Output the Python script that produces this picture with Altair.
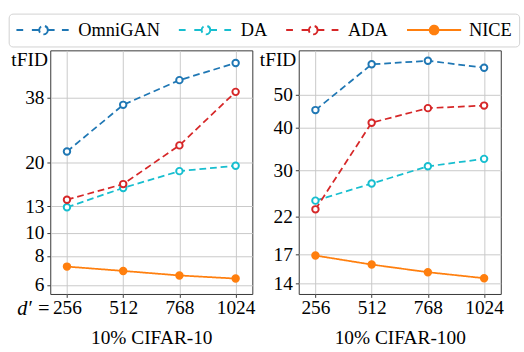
import altair as alt
import pandas as pd

series = ["OmniGAN", "DA", "ADA", "NICE"]
colors = ["#1f77b4", "#17becf", "#d62728", "#ff7f0e"]
fills = ["white", "white", "white", "#ff7f0e"]
dashes = [[7, 4], [7, 4], [7, 4], [1, 0]]
dims = [256, 512, 768, 1024]

c10_omnigan = [22.3, 35.3, 45.0, 53.3]
c10_da = [12.9, 15.6, 18.4, 19.4]
c10_ada = [13.9, 16.2, 23.7, 40.1]
c10_nice = [7.2, 6.9, 6.6, 6.4]

c100_omnigan = [45.2, 61.6, 63.1, 60.2]
c100_da = [24.5, 27.5, 30.9, 32.5]
c100_ada = [23.1, 41.5, 45.8, 46.6]
c100_nice = [16.9, 15.9, 15.1, 14.5]

c10_ticks = [6, 8, 10, 13, 20, 38]
c100_ticks = [14, 17, 22, 30, 40, 50]

# legend symbols: line (dashed or solid) with a circle marker
circle = ("M0.16,0C0.16,0.0884,0.0884,0.16,0,0.16C-0.0884,0.16,-0.16,0.0884,-0.16,0"
          "C-0.16,-0.0884,-0.0884,-0.16,0,-0.16C0.0884,-0.16,0.16,-0.0884,0.16,0Z")
dash_path = "M-1,0H-0.68M-0.43,0H-0.16M0.16,0H0.43M0.68,0H1" + circle
solid_path = "M-1,0H-0.16M0.16,0H1" + circle
shapes = [dash_path, dash_path, dash_path, solid_path]

FONT = "Liberation Serif"
W, H = 209, 252

legend = alt.Legend(
    orient="none", legendX=-43, legendY=-38, direction="horizontal", columns=4,
    labelFont=FONT, labelFontSize=19, labelColor="black", labelOffset=7,
    columnPadding=18, padding=7, strokeColor="#d0d0d0", cornerRadius=4,
    fillColor="white", symbolSize=3136, symbolStrokeWidth=2, clipHeight=20,
)


def make_df(vals):
    rows = []
    for s, v in zip(series, vals):
        for d, y in zip(dims, v):
            rows.append({"series": s, "ls": s, "d": d, "v": y})
    return pd.DataFrame(rows)


def panel(vals, ticks, ydomain, title, first):
    df = make_df(vals)
    x = alt.X("d:Q", scale=alt.Scale(domain=[180, 1100], nice=False, zero=False),
              axis=alt.Axis(values=dims, title=title, format="d"))
    y = alt.Y("v:Q", scale=alt.Scale(type="log", domain=ydomain, nice=False),
              axis=alt.Axis(values=ticks, title="tFID", format="d"))
    stroke = alt.Stroke("series:N", title=None, scale=alt.Scale(domain=series, range=colors), legend=legend)
    fill = alt.Fill("series:N", title=None, scale=alt.Scale(domain=series, range=fills), legend=legend)
    shape = alt.Shape("series:N", title=None, scale=alt.Scale(domain=series, range=shapes), legend=legend)
    sdash = alt.StrokeDash("ls:N", scale=alt.Scale(domain=series, range=dashes), legend=None)
    base = alt.Chart(df)
    lines = base.mark_line(strokeWidth=1.8).encode(x=x, y=y, stroke=stroke, strokeDash=sdash,
                                                  order="d:Q")
    pts = base.mark_point(size=45, strokeWidth=2, opacity=1, filled=False).encode(
        x=x, y=y, stroke=stroke, fill=fill)
    leg = base.transform_filter("false").mark_point(opacity=1).encode(
        x=x, y=y, stroke=stroke, fill=fill, shape=shape)
    layers = [lines, pts, leg]
    if first:
        tdf = pd.DataFrame({"d": [256], "t": ["d\u2032 ="]})
        txt = alt.Chart(tdf).mark_text(font=FONT, fontSize=21, fontStyle="italic", align="right",
                                       baseline="alphabetic", dx=-17, color="black").encode(
            x=alt.X("d:Q"), y=alt.value(H + 22), text="t:N")
        layers.append(txt)
    return alt.layer(*layers).properties(width=W, height=H)


left = panel([c10_omnigan, c10_da, c10_ada, c10_nice], c10_ticks, [5.5, 60.3], "10% CIFAR-10", True)
right = panel([c100_omnigan, c100_da, c100_ada, c100_nice], c100_ticks, [13.03, 67.7], "10% CIFAR-100", False)

chart = alt.hconcat(left, right, spacing=48, bounds="flush").resolve_scale(
    x="independent", y="independent", stroke="shared", fill="shared", shape="shared", strokeDash="shared"
).properties(
    padding={"left": 8, "right": 4, "top": 7, "bottom": 1}
).configure_view(
    stroke="#333333", strokeWidth=1
).configure_axis(
    labelFont=FONT, labelFontSize=20, labelColor="black",
    titleFont=FONT, titleFontSize=20, titleFontWeight="normal", titleColor="black",
    grid=True, gridColor="#c8c8c8", gridWidth=1, domain=False,
    ticks=True, tickSize=3.5, tickColor="#333333", tickWidth=1,
).configure_axisX(
    labelPadding=1, titlePadding=11,
).configure_axisY(
    labelPadding=3, titleAngle=0, titleAlign="right", titleBaseline="top", titleX=-3, titleY=0,
)

chart.save("out.html", embed_options={"renderer": "svg", "actions": False})
